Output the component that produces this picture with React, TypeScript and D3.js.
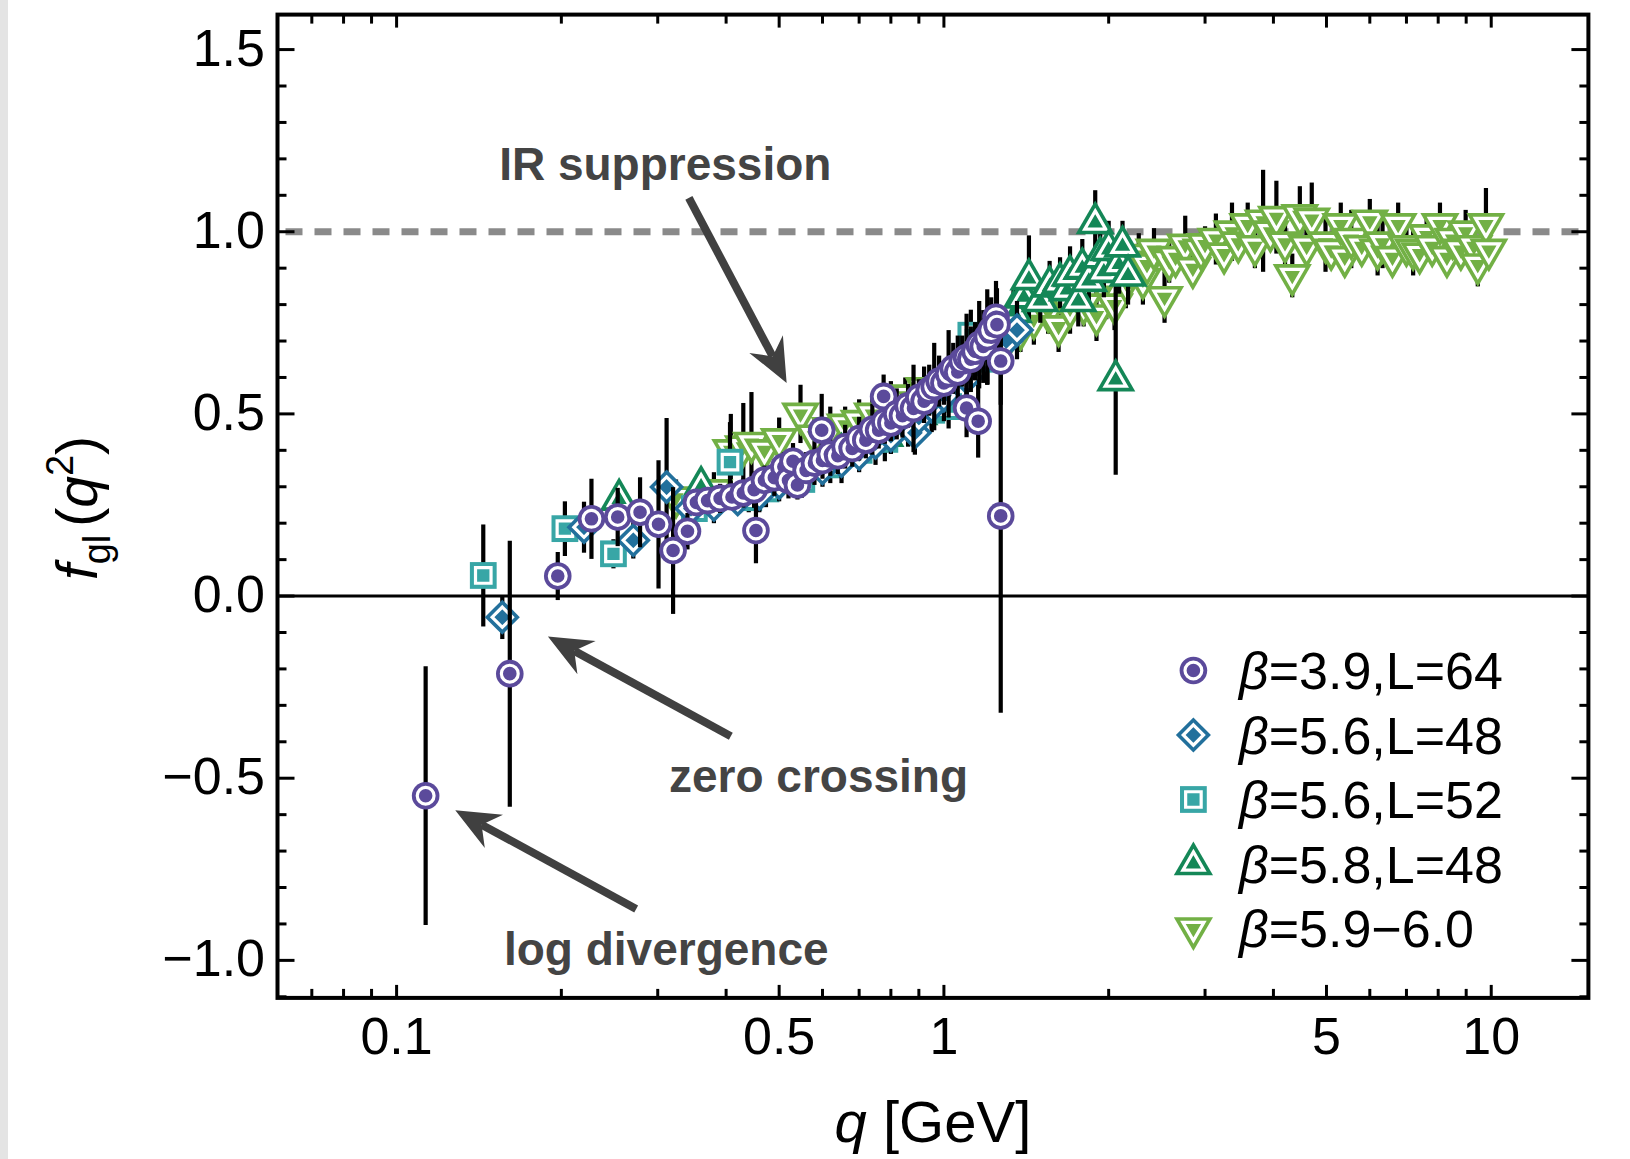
import React from "react";
import * as d3 from "d3";

// ---------- data: [q (GeV), f_gl, error] ----------
const seriesB39L64: [number, number, number][] = [
  [0.113, -0.548, 0.355], [0.161, -0.213, 0.365], [0.197, 0.055, 0.066], [0.227, 0.212, 0.11],
  [0.2535, 0.217, 0.08], [0.2785, 0.23, 0.096], [0.301, 0.197, 0.176], [0.32, 0.125, 0.174],
  [0.34, 0.178, 0.05], [0.4535, 0.18, 0.09], [0.598, 0.455, 0.1],
  [0.353, 0.257, 0.03], [0.37, 0.262, 0.03], [0.39, 0.268, 0.04], [0.41, 0.272, 0.03],
  [0.43, 0.283, 0.04], [0.45, 0.292, 0.05], [0.47, 0.318, 0.04], [0.49, 0.325, 0.05],
  [0.51, 0.355, 0.04], [0.52, 0.318, 0.05], [0.53, 0.37, 0.05], [0.54, 0.305, 0.04],
  [0.56, 0.345, 0.05], [0.58, 0.365, 0.06], [0.6, 0.372, 0.05], [0.62, 0.39, 0.06],
  [0.64, 0.385, 0.05], [0.66, 0.41, 0.06], [0.68, 0.405, 0.05], [0.7, 0.432, 0.06],
  [0.72, 0.428, 0.05], [0.74, 0.458, 0.07], [0.76, 0.455, 0.05], [0.776, 0.548, 0.06],
  [0.78, 0.478, 0.06], [0.8, 0.475, 0.05], [0.82, 0.5, 0.07], [0.84, 0.495, 0.06],
  [0.86, 0.522, 0.06], [0.88, 0.515, 0.12], [0.9, 0.545, 0.05], [0.92, 0.535, 0.06],
  [0.94, 0.565, 0.07], [0.96, 0.575, 0.12], [0.98, 0.59, 0.07], [1.0, 0.585, 0.06],
  [1.02, 0.61, 0.12], [1.04, 0.625, 0.07], [1.06, 0.615, 0.1], [1.08, 0.645, 0.07],
  [1.1, 0.516, 0.08], [1.1, 0.655, 0.12], [1.12, 0.65, 0.09], [1.14, 0.672, 0.08],
  [1.155, 0.48, 0.1], [1.16, 0.69, 0.12], [1.18, 0.685, 0.1], [1.2, 0.712, 0.13],
  [1.22, 0.73, 0.09], [1.245, 0.765, 0.1], [1.25, 0.745, 0.1], [1.27, 0.645, 0.12],
  [1.27, 0.22, 0.54],
];

const seriesB56L48: [number, number, number][] = [
  [0.156, -0.058, 0.06], [0.22, 0.189, 0.07], [0.2707, 0.153, 0.05], [0.3114, 0.299, 0.19],
  [0.345, 0.24, 0.04], [0.38, 0.25, 0.05], [0.42, 0.265, 0.04], [0.46, 0.28, 0.05],
  [0.5, 0.31, 0.05], [0.55, 0.33, 0.04], [0.6, 0.35, 0.05], [0.65, 0.37, 0.06],
  [0.7, 0.39, 0.05], [0.75, 0.42, 0.06], [0.8, 0.44, 0.05], [0.885, 0.448, 0.06],
  [0.9, 0.49, 0.06], [0.95, 0.52, 0.06], [1.0, 0.55, 0.07], [1.1, 0.6, 0.07],
  [1.2, 0.66, 0.08], [1.3, 0.7, 0.08], [1.36, 0.73, 0.08],
];

const seriesB56L52: [number, number, number][] = [
  [0.144, 0.0565, 0.14], [0.203, 0.185, 0.075], [0.249, 0.116, 0.04], [0.4066, 0.3675, 0.11],
  [0.35, 0.24, 0.04], [0.44, 0.27, 0.04], [0.473, 0.294, 0.05], [0.55, 0.32, 0.05],
  [0.62, 0.36, 0.05], [0.7, 0.4, 0.05], [0.78, 0.43, 0.06], [0.86, 0.47, 0.06],
  [0.95, 0.51, 0.06], [1.02, 0.52, 0.06], [1.12, 0.716, 0.07], [1.2, 0.65, 0.07],
];

const seriesB58L48: [number, number, number][] = [
  [0.255, 0.265, 0.04], [0.36, 0.3, 0.04], [0.5, 0.33, 0.05], [0.65, 0.39, 0.05],
  [0.78, 0.44, 0.05], [0.9, 0.5, 0.05], [1.25, 0.72, 0.06], [1.34, 0.78, 0.06],
  [1.4, 0.82, 0.07], [1.43, 0.87, 0.12], [1.5, 0.81, 0.06], [1.56, 0.85, 0.07],
  [1.63, 0.86, 0.07], [1.68, 0.84, 0.06], [1.7, 0.88, 0.08], [1.76, 0.81, 0.07],
  [1.79, 0.9, 0.08], [1.84, 0.865, 0.07], [1.89, 1.024, 0.09], [1.93, 0.93, 0.08],
  [1.96, 0.89, 0.07], [2.0, 0.95, 0.08], [2.06, 0.593, 0.26], [2.09, 0.91, 0.08],
  [2.12, 0.96, 0.07], [2.17, 0.88, 0.08],
];

const seriesB59to60: [number, number, number][] = [
  [0.324, 0.27, 0.05], [0.38, 0.29, 0.05], [0.408, 0.4, 0.1], [0.43, 0.41, 0.12],
  [0.445, 0.42, 0.14], [0.47, 0.4, 0.06], [0.5, 0.43, 0.06], [0.547, 0.5, 0.08],
  [0.58, 0.44, 0.05], [0.62, 0.46, 0.06], [0.66, 0.47, 0.05], [0.7, 0.48, 0.06],
  [0.74, 0.5, 0.05], [0.8, 0.53, 0.06], [0.85, 0.55, 0.05], [0.92, 0.57, 0.06],
  [1.3, 0.7, 0.06], [1.38, 0.73, 0.06], [1.46, 0.76, 0.07], [1.55, 0.78, 0.06],
  [1.62, 0.74, 0.07], [1.7, 0.79, 0.07], [1.8, 0.8, 0.06], [1.9, 0.77, 0.07],
  [1.98, 0.84, 0.08], [2.05, 0.8, 0.07], [2.15, 0.86, 0.07], [2.2, 0.9, 0.05],
  [2.27, 0.936, 0.06], [2.31, 0.87, 0.07], [2.35, 0.91, 0.05], [2.42, 0.95, 0.06],
  [2.53, 0.82, 0.07], [2.58, 0.92, 0.06], [2.65, 0.93, 0.05], [2.76, 0.964, 0.08],
  [2.85, 0.9, 0.05], [2.95, 0.95, 0.06], [3.0, 0.965, 0.05], [3.14, 0.98, 0.07],
  [3.25, 0.94, 0.05], [3.36, 1.0, 0.08], [3.45, 0.97, 0.05], [3.59, 1.02, 0.06],
  [3.7, 0.96, 0.06], [3.83, 1.03, 0.14], [3.95, 1.0, 0.05], [4.05, 1.04, 0.1],
  [4.2, 0.97, 0.06], [4.33, 0.88, 0.06], [4.47, 1.045, 0.08], [4.6, 0.96, 0.05],
  [4.7, 1.035, 0.1], [4.98, 0.97, 0.08], [5.1, 0.95, 0.05], [5.31, 1.02, 0.06],
  [5.4, 0.93, 0.05], [5.55, 0.98, 0.08], [5.8, 0.96, 0.05], [6.0, 1.03, 0.06],
  [6.2, 0.95, 0.07], [6.33, 0.97, 0.07], [6.6, 0.93, 0.05], [6.76, 1.02, 0.06],
  [7.0, 0.96, 0.05], [7.2, 0.95, 0.07], [7.4, 0.94, 0.05], [7.62, 0.99, 0.06],
  [7.8, 0.96, 0.05], [8.06, 1.02, 0.06], [8.3, 0.93, 0.05], [8.5, 0.98, 0.07],
  [8.8, 0.95, 0.05], [8.98, 1.0, 0.06], [9.3, 0.96, 0.06], [9.45, 0.91, 0.06],
  [9.78, 1.02, 0.1], [9.9, 0.95, 0.05],
];

const seriesLabels = ["=3.9,L=64", "=5.6,L=48", "=5.6,L=52", "=5.8,L=48", "=5.9\u22126.0"];
const seriesColors = ["#5b4a9b", "#22709c", "#38a6a6", "#148757", "#72b045"];
const seriesShapes = ["circle", "diamond", "square", "triUp", "triDown"];

const xMajorTicks = [0.1, 0.5, 1, 5, 10];
const xMajorLabels = ["0.1", "0.5", "1", "5", "10"];
const xMinorTicks = [0.07, 0.08, 0.09, 0.2, 0.3, 0.4, 0.6, 0.7, 0.8, 0.9, 2, 3, 4, 6, 7, 8, 9];
const yMajorTicks = [-1, -0.5, 0, 0.5, 1, 1.5];
const yMajorLabels = ["\u22121.0", "\u22120.5", "0.0", "0.5", "1.0", "1.5"];
const yMinorTicks = [-1.1, -0.9, -0.8, -0.7, -0.6, -0.4, -0.3, -0.2, -0.1, 0.1, 0.2, 0.3, 0.4, 0.6, 0.7, 0.8, 0.9, 1.1, 1.2, 1.3, 1.4];

// annotations: text, text centre (q,f), arrow from (q,f) to tip (q,f)
const annotations = [
  { text: "IR suppression", tq: 0.3097, tf: 1.141, from: [0.342, 1.093], to: [0.516, 0.585] },
  { text: "zero crossing", tq: 0.59, tf: -0.538, from: [0.408, -0.385], to: [0.189, -0.111] },
  { text: "log divergence", tq: 0.311, tf: -1.013, from: [0.274, -0.859], to: [0.128, -0.588] },
];

const W = 1630, H = 1159;
const L = 277.5, R = 1588.4, T = 14.6, B = 997.9;
const FONT = "'Liberation Sans', Arial, Helvetica, sans-serif";

function shapePath(shape: string, s: number): string {
  switch (shape) {
    case "circle":
      return `M ${s},0 A ${s},${s} 0 1,1 ${-s},0 A ${s},${s} 0 1,1 ${s},0 Z`;
    case "diamond": {
      const h = s * 1.27;
      return `M 0,${-h} L ${h},0 L 0,${h} L ${-h},0 Z`;
    }
    case "square": {
      const h = s * 0.97;
      return `M ${-h},${-h} L ${h},${-h} L ${h},${h} L ${-h},${h} Z`;
    }
    case "triUp": {
      const a = s * 1.42;
      return `M 0,${-1.15 * a} L ${a},${0.58 * a} L ${-a},${0.58 * a} Z`;
    }
    case "triDown": {
      const a = s * 1.42;
      return `M 0,${1.15 * a} L ${a},${-0.58 * a} L ${-a},${-0.58 * a} Z`;
    }
  }
  return "";
}

function Marker({ x, y, shape, color }: { x: number; y: number; shape: string; color: string }) {
  const outer = 13.8;
  const inner = shape === "circle" ? 8.4 : shape.startsWith("tri") ? 7.4 : 8.0;
  return (
    <g transform={`translate(${x},${y})`}>
      <path d={shapePath(shape, outer)} fill={color} />
      <path d={shapePath(shape, inner)} fill={color} stroke="#fff" strokeWidth={3.2} />
    </g>
  );
}

export default function App() {
  const x = d3.scaleLog().domain([0.06059, 15.05]).range([L, R]);
  const y = d3.scaleLinear().domain([-1.103, 1.596]).range([B, T]);
  const allSeries = [seriesB39L64, seriesB56L48, seriesB56L52, seriesB58L48, seriesB59to60];
  const drawOrder = [4, 3, 2, 1, 0];

  const arrowHead = (x1: number, y1: number, x2: number, y2: number) => {
    const ang = Math.atan2(y2 - y1, x2 - x1);
    const len = 44, half = 19, notch = 30;
    const ux = Math.cos(ang), uy = Math.sin(ang);
    const px = -uy, py = ux;
    const bx = x2 - ux * len, by = y2 - uy * len;
    const nx = x2 - ux * notch, ny = y2 - uy * notch;
    return `M ${x2},${y2} L ${bx + px * half},${by + py * half} L ${nx},${ny} L ${bx - px * half},${by - py * half} Z`;
  };

  return (
    <svg width={W} height={H} style={{ position: "absolute", left: 0, top: 0, background: "#fff" }} fontFamily={FONT}>
      <rect x={0} y={0} width={W} height={H} fill="#fff" />
      <rect x={0} y={0} width={8} height={H} fill="#e4e4e4" />

      {/* reference lines */}
      <line x1={L} x2={R} y1={y(1)} y2={y(1)} stroke="#8a8a8a" strokeWidth={7} strokeDasharray="17 12" strokeDashoffset={-8} />
      <line x1={L} x2={R} y1={y(0)} y2={y(0)} stroke="#000" strokeWidth={3} />

      {/* data */}
      {drawOrder.map((si) => (
        <g key={"s" + si}>
          {allSeries[si].map(([q, f, e], i) => (
            <line key={"e" + i} x1={x(q)} x2={x(q)} y1={y(f - e)} y2={y(f + e)} stroke="#000" strokeWidth={4.2} />
          ))}
          {allSeries[si].map(([q, f], i) => (
            <Marker key={"m" + i} x={x(q)} y={y(f)} shape={seriesShapes[si]} color={seriesColors[si]} />
          ))}
        </g>
      ))}

      {/* annotations */}
      {annotations.map((a, i) => {
        const x1 = x(a.from[0]), y1 = y(a.from[1]);
        const x2 = x(a.to[0]), y2 = y(a.to[1]);
        const ang = Math.atan2(y2 - y1, x2 - x1);
        const xe = x2 - Math.cos(ang) * 30, ye = y2 - Math.sin(ang) * 30;
        return (
          <g key={"a" + i}>
            <line x1={x1} y1={y1} x2={xe} y2={ye} stroke="#404040" strokeWidth={8} />
            <path d={arrowHead(x1, y1, x2, y2)} fill="#404040" />
            <text x={x(a.tq)} y={y(a.tf)} textAnchor="middle" fontSize={46} fontWeight="bold" fill="#444">
              {a.text}
            </text>
          </g>
        );
      })}

      {/* frame ticks */}
      {xMajorTicks.map((t, i) => (
        <g key={"xM" + i}>
          <line x1={x(t)} x2={x(t)} y1={B} y2={B - 13} stroke="#000" strokeWidth={3} />
          <line x1={x(t)} x2={x(t)} y1={T} y2={T + 13} stroke="#000" strokeWidth={3} />
          <text x={x(t)} y={1054} textAnchor="middle" fontSize={52}>{xMajorLabels[i]}</text>
        </g>
      ))}
      {xMinorTicks.map((t, i) => (
        <g key={"xm" + i}>
          <line x1={x(t)} x2={x(t)} y1={B} y2={B - 9} stroke="#000" strokeWidth={3} />
          <line x1={x(t)} x2={x(t)} y1={T} y2={T + 9} stroke="#000" strokeWidth={3} />
        </g>
      ))}
      {yMajorTicks.map((t, i) => (
        <g key={"yM" + i}>
          <line x1={L} x2={L + 17} y1={y(t)} y2={y(t)} stroke="#000" strokeWidth={3} />
          <line x1={R} x2={R - 17} y1={y(t)} y2={y(t)} stroke="#000" strokeWidth={3} />
          <text x={265} y={y(t) + 16} textAnchor="end" fontSize={52}>{yMajorLabels[i]}</text>
        </g>
      ))}
      {yMinorTicks.map((t, i) => (
        <g key={"ym" + i}>
          <line x1={L} x2={L + 9} y1={y(t)} y2={y(t)} stroke="#000" strokeWidth={3} />
          <line x1={R} x2={R - 9} y1={y(t)} y2={y(t)} stroke="#000" strokeWidth={3} />
        </g>
      ))}
      <rect x={L} y={T} width={R - L} height={B - T} fill="none" stroke="#000" strokeWidth={4} />

      {/* axis labels */}
      <text x={(L + R) / 2} y={1142} textAnchor="middle" fontSize={58}>
        <tspan fontStyle="italic">q</tspan> [GeV]
      </text>
      <text transform={`translate(97, 508) rotate(-90)`} textAnchor="middle" fontSize={57}>
        <tspan fontStyle="italic">f</tspan>
        <tspan fontSize={38} dy={13}>gl</tspan>
        <tspan dy={-13} dx={8}>(</tspan>
        <tspan fontStyle="italic">q</tspan>
        <tspan fontSize={38} dy={-24}>2</tspan>
        <tspan dy={24}>)</tspan>
      </text>

      {/* legend */}
      {seriesLabels.map((lab, i) => {
        const ly = 670.5 + i * 64.5;
        return (
          <g key={"l" + i}>
            <Marker x={1193.4} y={ly} shape={seriesShapes[i]} color={seriesColors[i]} />
            <text x={1239} y={ly + 18.5} fontSize={52}>
              <tspan fontStyle="italic">{"\u03b2"}</tspan>{lab}
            </text>
          </g>
        );
      })}
    </svg>
  );
}
